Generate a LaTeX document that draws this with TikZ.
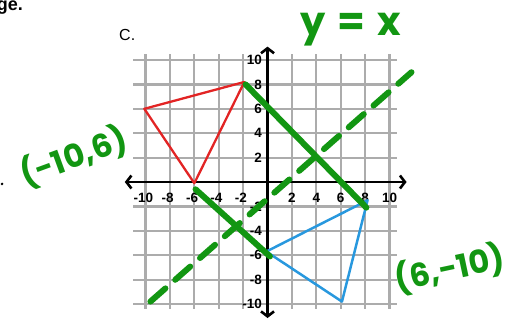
\documentclass[tikz,border=0pt]{standalone}
\usepackage{fontspec}
\setmainfont{Liberation Sans}
\newfontfamily\handfont{Poppins}
\usetikzlibrary{arrows.meta}
\definecolor{gridgray}{RGB}{172,172,172}
\definecolor{pengreen}{RGB}{18,150,18}
\definecolor{trired}{RGB}{226,36,36}
\definecolor{triblue}{RGB}{40,152,222}

\begin{document}
\begin{tikzpicture}[x=12.2pt, y=12.2pt, >={Straight Barb[length=5pt,width=13pt]},
    ticklabel/.style={font=\bfseries\fontsize{13.5}{13.5}\selectfont, inner sep=0pt},
    pen/.style={pengreen, line width=6pt, line cap=round},
    hand/.style={pengreen, inner sep=0pt, font=\handfont\bfseries\fontsize{32}{32}\selectfont}]
    \useasboundingbox (-21.93,-11.31) rectangle (20.45,14.92);
    % grid and axes
    \draw[gridgray, line width=2.2pt, step=2] (-11,-10.4) grid (10.6,10.5);
    \draw[<->, line width=2.6pt] (-11.7,0) -- (11.4,0);
    \draw[<->, line width=2.6pt] (0,-11.15) -- (0,11.1);
    \foreach \x in {2,4,...,10}
        \node[ticklabel] (xl\x) at (\x,-1.3) {\x};
    \foreach \x in {-10,-8,...,-2}
        \node[ticklabel] (xl\x) at (\x,-1.3) {\llap{-}\the\numexpr-\x\relax};
    \foreach \y in {-10,-8,...,-2,2,4,...,10}
        \node[ticklabel, anchor=east] (yl\y) at (-0.45,\y) {\y};
    % triangles
    \draw[trired, line width=2.3pt, line join=round] (-10.1,6) -- (-1.9,8.2) -- (-6,-0.1) -- cycle;
    \draw[triblue, line width=2.5pt, line join=round] (-0.1,-5.7) -- (8.2,-1.5) -- (6.1,-9.8) -- cycle;
    % pen marks
    \draw[pen] (-1.8,8) -- (8.1,-2.1);
    \draw[pen] (-5.9,-0.6) -- (0.2,-6.1);
    \draw[pen, dash pattern=on 20pt off 13pt] (-9.6,-9.8) -- (11.8,9.0);
    \node[hand, font=\handfont\bfseries\fontsize{40}{40}\selectfont] (line) at (6.8,12.5) {y\hspace{0.3em}=\hspace{0.3em}x};
    \node[hand, rotate=20] (redpt) at (-15.9,2.05) {(-10,6)};
    \node[hand, rotate=12] (bluept) at (14.96,-7.1) {(6,-10)};
    % page text
    \node[font=\fontsize{16}{16}\selectfont] (part) at (-11.5,12.05) {C.};
    \node[font=\bfseries\fontsize{18}{18}\selectfont, anchor=base east, inner sep=0pt] (cut) at (-20.04,14.06) {ge.};
    \fill (-21.76,-0.16) circle (1.4pt);
\end{tikzpicture}
\end{document}
